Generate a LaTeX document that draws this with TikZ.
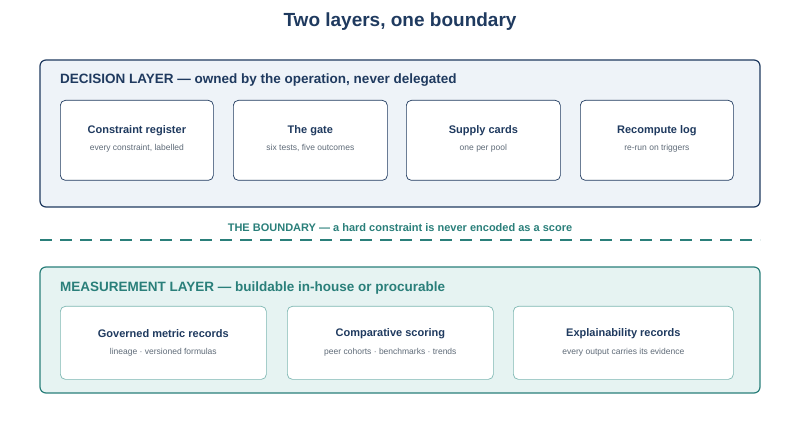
\documentclass[tikz,border=0pt]{standalone}
\usepackage{fontspec}
\setmainfont{Liberation Sans}
\usetikzlibrary{positioning}
\definecolor{navy}{HTML}{1F3A5F}
\definecolor{teal}{HTML}{2A7F7A}
\definecolor{lteal}{HTML}{7FB8B3}
\definecolor{decfill}{HTML}{EEF3F8}
\definecolor{meafill}{HTML}{E6F3F2}
\definecolor{subgray}{HTML}{5F6B78}

\begin{document}
\begin{tikzpicture}[x=1pt,y=-1pt,
    layer/.style={rounded corners=6pt,line width=1.2pt},
    card/.style={draw,fill=white,rounded corners=5pt,line width=0.7pt,
                 minimum height=80pt},
    cardtitle/.style={font=\fontsize{11}{13}\selectfont\bfseries,text=navy},
    cardsub/.style={font=\fontsize{8.5}{10}\selectfont,text=subgray}]
  \useasboundingbox (0,0) rectangle (800,427);

  \node (title) at (400,22) {\fontsize{19}{22}\selectfont\bfseries\color{navy}Two layers, one boundary};

  % decision layer
  \draw[layer,draw=navy,fill=decfill] (40,60) rectangle (760,207);
  \node[anchor=west,inner sep=0pt,text=navy,font=\fontsize{13.5}{16}\selectfont\bfseries] (declabel) at (60,80)
    {DECISION LAYER — owned by the operation, never delegated};
  \foreach \x/\w/\t/\s [count=\i] in {60/153/Constraint register/{every constraint, labelled},
      233/154/The gate/{six tests, five outcomes},
      406/154/Supply cards/one per pool,
      580/153/Recompute log/re-run on triggers}{
    \node[card,draw=navy,minimum width=\w pt,anchor=north west] (dec\i) at (\x,100) {};
    \node[cardtitle] (dect\i) at ([yshift=10pt]dec\i.center) {\t};
    \node[cardsub] (decs\i) at ([yshift=-8pt]dec\i.center) {\s};
  }

  % boundary
  \node[text=teal,font=\fontsize{11}{13}\selectfont\bfseries] (bndlabel) at (400,228)
    {THE BOUNDARY — a hard constraint is never encoded as a score};
  \coordinate (bl) at (40,240);
  \coordinate (br) at (760,240);
  \draw[teal,line width=2.6pt,dash pattern=on 12pt off 8pt] (bl) -- (br);

  % measurement layer
  \draw[layer,draw=teal,fill=meafill] (40,267) rectangle (760,393);
  \node[anchor=west,inner sep=0pt,text=teal,font=\fontsize{13.5}{16}\selectfont\bfseries] (mealabel) at (60,288)
    {MEASUREMENT LAYER — buildable in-house or procurable};
  \foreach \x/\w/\t/\s [count=\i] in {60/206/Governed metric records/lineage · versioned formulas,
      287/206/Comparative scoring/peer cohorts · benchmarks · trends,
      513/220/Explainability records/every output carries its evidence}{
    \node[card,draw=lteal,minimum width=\w pt,minimum height=73pt,anchor=north west] (mea\i) at (\x,306) {};
    \node[cardtitle] (meat\i) at ([yshift=9pt]mea\i.center) {\t};
    \node[cardsub] (meas\i) at ([yshift=-9pt]mea\i.center) {\s};
  }
\end{tikzpicture}
\end{document}
